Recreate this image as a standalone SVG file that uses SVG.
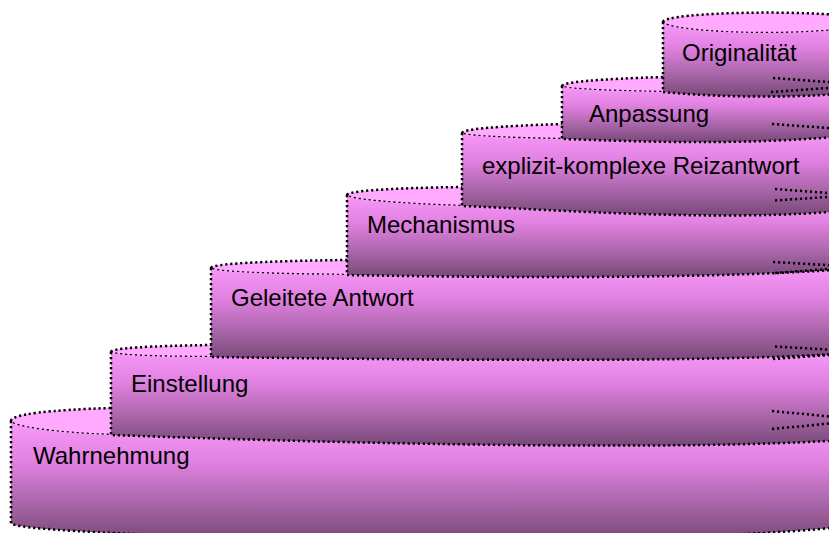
<svg xmlns="http://www.w3.org/2000/svg" width="829" height="533" viewBox="0 0 829 533">
<defs>
<linearGradient id="body" x1="0" y1="0" x2="0" y2="1">
<stop offset="0" stop-color="#f898f8"/>
<stop offset="0.35" stop-color="#e080e0"/>
<stop offset="0.7" stop-color="#a865a8"/>
<stop offset="1" stop-color="#784878"/>
</linearGradient>
</defs>
<style>
.body{fill:url(#body);stroke:none}
.top{fill:#ffaaff;stroke:#000;stroke-width:2.5;stroke-dasharray:2.2 2.8}
.edge{fill:none;stroke:#000;stroke-width:2.5;stroke-dasharray:2.2 2.8}
.lbl{font-family:"Liberation Sans",Arial,sans-serif;font-size:24px;fill:#000}
</style>
<rect width="829" height="533" fill="#fff"/>
<g id="wahrnehmung">
<path class="top" d="M11,421 C11,414 50,410 111,408 C300,400 700,400 880,410 L880,437 C700,455 250,440 111,435 C55,433 11,427 11,421 Z"/>
<path class="body" d="M11,421 C11,427 55,433 111,435 C250,440 700,455 880,437 L880,522 C700,552 11,538 11,523 Z"/>
<path class="edge" d="M11,421 L11,523 C11,538 700,552 880,522"/>
<text class="lbl" x="33" y="464">Wahrnehmung</text>
</g>
<g id="einstellung">
<path class="top" d="M111,352 C111,348 150,346 211,345 C400,342 700,342 880,348 L880,350 C760,366 300,358 211,357 C150,357 111,355 111,352 Z"/>
<path class="body" d="M111,352 C111,355 150,357 211,357 C300,358 760,366 880,350 L880,437 C700,455 250,440 111,435 Z"/>
<path class="edge" d="M111,352 L111,435 C250,440 700,455 880,437"/>
<path class="edge" d="M772,411 L835,417 M772,429 L835,423"/>
<text class="lbl" x="131" y="392">Einstellung</text>
</g>
<g id="geleitete-antwort">
<path class="top" d="M211,268 C211,264 260,261 347,260 C500,258 700,258 880,262 L880,266 C740,281 450,277 347,275 C260,274 211,272 211,268 Z"/>
<path class="body" d="M211,268 C211,272 260,274 347,275 C450,277 740,281 880,266 L880,350 C760,366 300,358 211,357 Z"/>
<path class="edge" d="M211,268 L211,357 C300,358 760,366 880,350"/>
<path class="edge" d="M775,346.5 L835,350 M773,359 L835,354.5"/>
<text class="lbl" x="231" y="306">Geleitete Antwort</text>
</g>
<g id="mechanismus">
<path class="top" d="M347,195 C347,191 390,188 462,187 C600,185 750,186 880,190 L880,206 C760,226 540,208.5 462,206 C400,204 347,200 347,195 Z"/>
<path class="body" d="M347,195 C347,200 400,204 462,206 C540,208.5 760,226 880,206 L880,266 C740,281 450,277 347,275 Z"/>
<path class="edge" d="M347,195 L347,275 C450,277 740,281 880,266"/>
<path class="edge" d="M773,262 L835,265.5 M775,273 L835,268.5"/>
<text class="lbl" x="367" y="233">Mechanismus</text>
</g>
<g id="reizantwort">
<path class="top" d="M462,133 C462,129 500,126 562,124 C650,122 750,122 880,126 L880,132 C760,148 620,140.5 562,139 C500,138 462,136 462,133 Z"/>
<path class="body" d="M462,133 C462,136 500,138 562,139 C620,140.5 760,148 880,132 L880,206 C760,226 540,208.5 462,206 Z"/>
<path class="edge" d="M462,133 L462,206 C540,208.5 760,226 880,206"/>
<path class="edge" d="M775,189 L835,193.5 M775,200.5 L835,196.5"/>
<text class="lbl" x="482" y="174">explizit-komplexe Reizantwort</text>
</g>
<g id="anpassung">
<path class="top" d="M562,86 C562,82 600,79 663,77 C720,75 800,75 880,78 L880,90 C780,102 690,94.5 663,92 C600,91 562,89 562,86 Z"/>
<path class="body" d="M562,86 C562,89 600,91 663,92 C690,94.5 780,102 880,90 L880,132 C760,148 620,140.5 562,139 Z"/>
<path class="edge" d="M562,86 L562,139 C620,140.5 760,148 880,132"/>
<path class="edge" d="M772,124 L835,128.5"/>
<text class="lbl" x="589" y="121.5">Anpassung</text>
</g>
<g id="originalitaet">
<path class="top" d="M663,22 C663,12 820,8 880,20 L880,24 C800,40 663,32 663,22 Z"/>
<path class="body" d="M663,22 C663,32 800,40 880,24 L880,90 C780,102 690,94.5 663,92 Z"/>
<path class="edge" d="M663,22 L663,92 C690,94.5 780,102 880,90"/>
<path class="edge" d="M773,78 L835,82.5 M771,92 L835,87.5"/>
<text class="lbl" x="682" y="61">Originalität</text>
</g>
<g id="connectors"/>
</svg>
